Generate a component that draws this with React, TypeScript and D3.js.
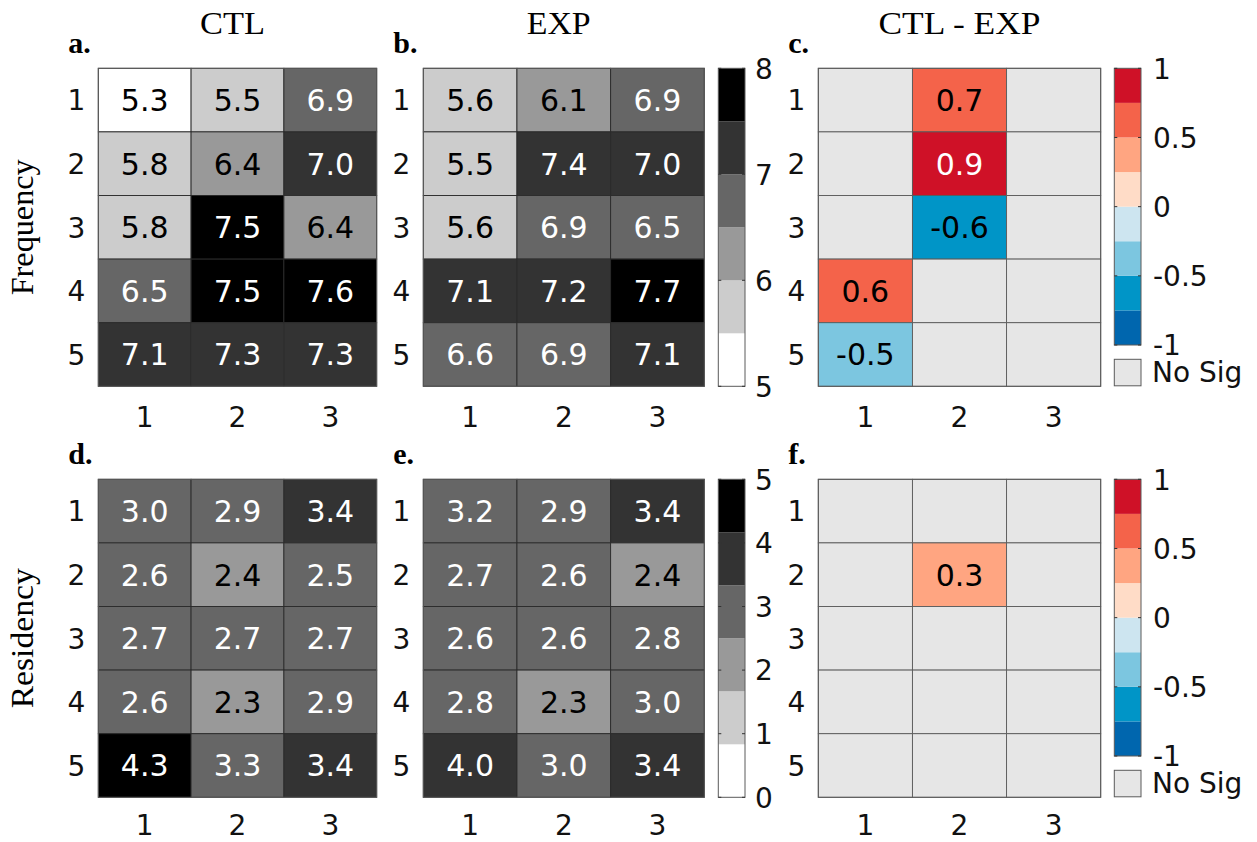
import React from "react";
import * as d3 from "d3";

// ---------- data ----------
const rowLabels = [1, 2, 3, 4, 5];
const colLabels = [1, 2, 3];

const freqCTL = [
  [5.3, 5.5, 6.9],
  [5.8, 6.4, 7.0],
  [5.8, 7.5, 6.4],
  [6.5, 7.5, 7.6],
  [7.1, 7.3, 7.3],
];
const freqEXP = [
  [5.6, 6.1, 6.9],
  [5.5, 7.4, 7.0],
  [5.6, 6.9, 6.5],
  [7.1, 7.2, 7.7],
  [6.6, 6.9, 7.1],
];
const freqDiff: (number | null)[][] = [
  [null, 0.7, null],
  [null, 0.9, null],
  [null, -0.6, null],
  [0.6, null, null],
  [-0.5, null, null],
];
const resCTL = [
  [3.0, 2.9, 3.4],
  [2.6, 2.4, 2.5],
  [2.7, 2.7, 2.7],
  [2.6, 2.3, 2.9],
  [4.3, 3.3, 3.4],
];
const resEXP = [
  [3.2, 2.9, 3.4],
  [2.7, 2.6, 2.4],
  [2.6, 2.6, 2.8],
  [2.8, 2.3, 3.0],
  [4.0, 3.0, 3.4],
];
const resDiff: (number | null)[][] = [
  [null, null, null],
  [null, 0.3, null],
  [null, null, null],
  [null, null, null],
  [null, null, null],
];

const columnTitles = ["CTL", "EXP", "CTL - EXP"];
const rowTitles = ["Frequency", "Residency"];
const panelLetters = [["a.", "b.", "c."], ["d.", "e.", "f."]];

const grays = ["#ffffff", "#cccccc", "#999999", "#666666", "#333333", "#000000"];
const freqTicks = [5, 6, 7, 8];
const resTicks = [0, 1, 2, 3, 4, 5];
const diffColors = ["#0066ae", "#0095c7", "#7cc6e0", "#cde5f0", "#ffdcc7", "#ffa581", "#f4634a", "#cf1127"];
const diffTicks = [-1, -0.5, 0, 0.5, 1];
const diffTickLabels = ["-1", "-0.5", "0", "0.5", "1"];
const noSigColor = "#e6e6e6";
const noSigLabel = "No Sig";

// ---------- layout ----------
const W = 1257;
const H = 842;
const panelLeft = [98.3, 423.3, 818.3];
const panelWidth = [278.4, 281, 282.4];
const rowTop = [68.3, 479.3];
const panelH = 318;
const cbGrayX = 718.3;
const cbW = 26.7;
const cbDiffX = 1114.3;
const cbDiffH = 276.7;
const titleLengths = [65, 64, 162];
const titleX = [232.5, 558.7, 959.5];
const rowTitleLengths = [136, 140];
const xTickOffset = [40.5, 37.5];

const sans = "'DejaVu Sans', sans-serif";
const serif = "'Liberation Serif', 'DejaVu Serif', serif";
const tickFont = 28;
const cellFont = 30;

function makeGrayScale(lo: number, hi: number) {
  const step = (hi - lo) / grays.length;
  const th = d3.range(1, grays.length).map((i) => lo + i * step);
  return d3.scaleThreshold<number, string>().domain(th).range(grays);
}
function makeDiffScale() {
  const th = d3.range(1, diffColors.length).map((i) => -1 + i * 0.25);
  return d3.scaleThreshold<number, string>().domain(th).range(diffColors);
}

function Grid({ left, top, width, data, color, textColor, rowT, xOff }: any) {
  const x = d3.scaleBand<number>().domain(colLabels).range([left, left + width]);
  const y = d3.scaleBand<number>().domain(rowLabels).range([top, top + panelH]);
  return (
    <g>
      {data.map((row: (number | null)[], i: number) =>
        row.map((v, j) => {
          const r = rowLabels[i];
          const c = colLabels[j];
          const fill = v === null ? noSigColor : color(v);
          return (
            <g key={`${i}-${j}`}>
              <rect
                x={x(c)}
                y={y(r)}
                width={x.bandwidth()}
                height={y.bandwidth()}
                fill={fill}
                stroke={v === null || rowT === "diff" ? "#5a5a5a" : "#2a2a2a"}
                strokeWidth={0.9}
              />
              {v !== null && (
                <text
                  x={(x(c) as number) + x.bandwidth() / 2}
                  y={(y(r) as number) + y.bandwidth() / 2 + cellFont * 0.729 / 2}
                  textAnchor="middle"
                  fontFamily={sans}
                  fontSize={cellFont}
                  fill={textColor(v)}
                >
                  {v.toFixed(1)}
                </text>
              )}
            </g>
          );
        })
      )}
      <rect x={left} y={top} width={width} height={panelH} fill="none" stroke="#5a5a5a" strokeWidth={1} />
      {rowLabels.map((r) => (
        <text
          key={"r" + r}
          x={left - 13}
          y={(y(r) as number) + y.bandwidth() / 2 + tickFont * 0.729 / 2}
          textAnchor="end"
          fontFamily={sans}
          fontSize={tickFont}
          fill="#111"
        >
          {r}
        </text>
      ))}
      {colLabels.map((c) => (
        <text
          key={"c" + c}
          x={(x(c) as number) + x.bandwidth() / 2}
          y={top + panelH + xOff}
          textAnchor="middle"
          fontFamily={sans}
          fontSize={tickFont}
          fill="#111"
        >
          {c}
        </text>
      ))}
    </g>
  );
}

function GrayBar({ top, lo, hi, ticks }: any) {
  const s = d3.scaleLinear().domain([lo, hi]).range([top + panelH, top]);
  const step = (hi - lo) / grays.length;
  return (
    <g>
      {grays.map((g, i) => (
        <rect key={i} x={cbGrayX} y={s(lo + (i + 1) * step)} width={cbW} height={s(lo + i * step) - s(lo + (i + 1) * step)} fill={g} />
      ))}
      <rect x={cbGrayX} y={top} width={cbW} height={panelH} fill="none" stroke="#5a5a5a" strokeWidth={1} />
      {ticks.map((t: number) => (
        <g key={t}>
          <line x1={cbGrayX} x2={cbGrayX + 3} y1={s(t)} y2={s(t)} stroke="#333" />
          <line x1={cbGrayX + cbW - 3} x2={cbGrayX + cbW} y1={s(t)} y2={s(t)} stroke="#333" />
          <text x={cbGrayX + cbW + 10} y={s(t) + tickFont * 0.729 / 2} fontFamily={sans} fontSize={tickFont} fill="#111">
            {t}
          </text>
        </g>
      ))}
    </g>
  );
}

function DiffBar({ top }: any) {
  const s = d3.scaleLinear().domain([-1, 1]).range([top + cbDiffH, top]);
  return (
    <g>
      {diffColors.map((c, i) => (
        <rect key={i} x={cbDiffX} y={s(-1 + (i + 1) * 0.25)} width={cbW} height={s(-1 + i * 0.25) - s(-1 + (i + 1) * 0.25)} fill={c} />
      ))}
      <rect x={cbDiffX} y={top} width={cbW} height={cbDiffH} fill="none" stroke="#5a5a5a" strokeWidth={1} />
      {diffTicks.map((t, i) => (
        <g key={t}>
          <line x1={cbDiffX} x2={cbDiffX + 3} y1={s(t)} y2={s(t)} stroke="#333" />
          <line x1={cbDiffX + cbW - 3} x2={cbDiffX + cbW} y1={s(t)} y2={s(t)} stroke="#333" />
          <text x={cbDiffX + cbW + 12} y={s(t) + tickFont * 0.729 / 2} fontFamily={sans} fontSize={tickFont} fill="#111">
            {diffTickLabels[i]}
          </text>
        </g>
      ))}
      <rect x={cbDiffX} y={top + 291} width={cbW} height={26.5} fill={noSigColor} stroke="#5a5a5a" strokeWidth={1} />
      <text x={cbDiffX + cbW + 11} y={top + 313.5} fontFamily={sans} fontSize={tickFont} fill="#111">
        {noSigLabel}
      </text>
    </g>
  );
}

export default function App() {
  const fScale = makeGrayScale(5, 8);
  const rScale = makeGrayScale(0, 5);
  const dScale = makeDiffScale();
  const grayText = (sc: any) => (v: number) => (grays.indexOf(sc(v)) >= 3 ? "#ffffff" : "#000000");
  const diffText = (v: number) => (Math.abs(v) >= 0.75 ? "#ffffff" : "#000000");

  const rowsData = [
    [freqCTL, freqEXP, freqDiff],
    [resCTL, resEXP, resDiff],
  ];
  const grayScales = [fScale, rScale];
  const tickSets = [freqTicks, resTicks];
  const ranges = [[5, 8], [0, 5]];

  return (
    <svg width={W} height={H} style={{ position: "absolute", left: 0, top: 0, background: "#fff" }}>
      <rect width={W} height={H} fill="#fff" />
      {columnTitles.map((t, k) => (
        <text
          key={t}
          x={titleX[k]}
          y={34}
          textAnchor="middle"
          fontFamily={serif}
          fontSize={31}
          textLength={titleLengths[k]}
          lengthAdjust="spacingAndGlyphs"
        >
          {t}
        </text>
      ))}
      {rowTitles.map((t, r) => (
        <text
          key={t}
          transform={`translate(33,${rowTop[r] + panelH / 2}) rotate(-90)`}
          textAnchor="middle"
          fontFamily={serif}
          fontSize={31}
          textLength={rowTitleLengths[r]}
          lengthAdjust="spacingAndGlyphs"
        >
          {t}
        </text>
      ))}
      {[0, 1].map((r) => (
        <g key={r}>
          {[0, 1, 2].map((k) => (
            <g key={k}>
              <text x={panelLeft[k] - 30} y={rowTop[r] - 15.6} fontFamily={serif} fontWeight="bold" fontSize={30}>
                {panelLetters[r][k]}
              </text>
              <Grid
                left={panelLeft[k]}
                top={rowTop[r]}
                width={panelWidth[k]}
                data={rowsData[r][k]}
                color={k === 2 ? dScale : grayScales[r]}
                textColor={k === 2 ? diffText : grayText(grayScales[r])}
                rowT={k === 2 ? "diff" : "gray"}
                xOff={xTickOffset[r]}
              />
            </g>
          ))}
          <GrayBar top={rowTop[r]} lo={ranges[r][0]} hi={ranges[r][1]} ticks={tickSets[r]} />
          <DiffBar top={rowTop[r]} />
        </g>
      ))}
    </svg>
  );
}
